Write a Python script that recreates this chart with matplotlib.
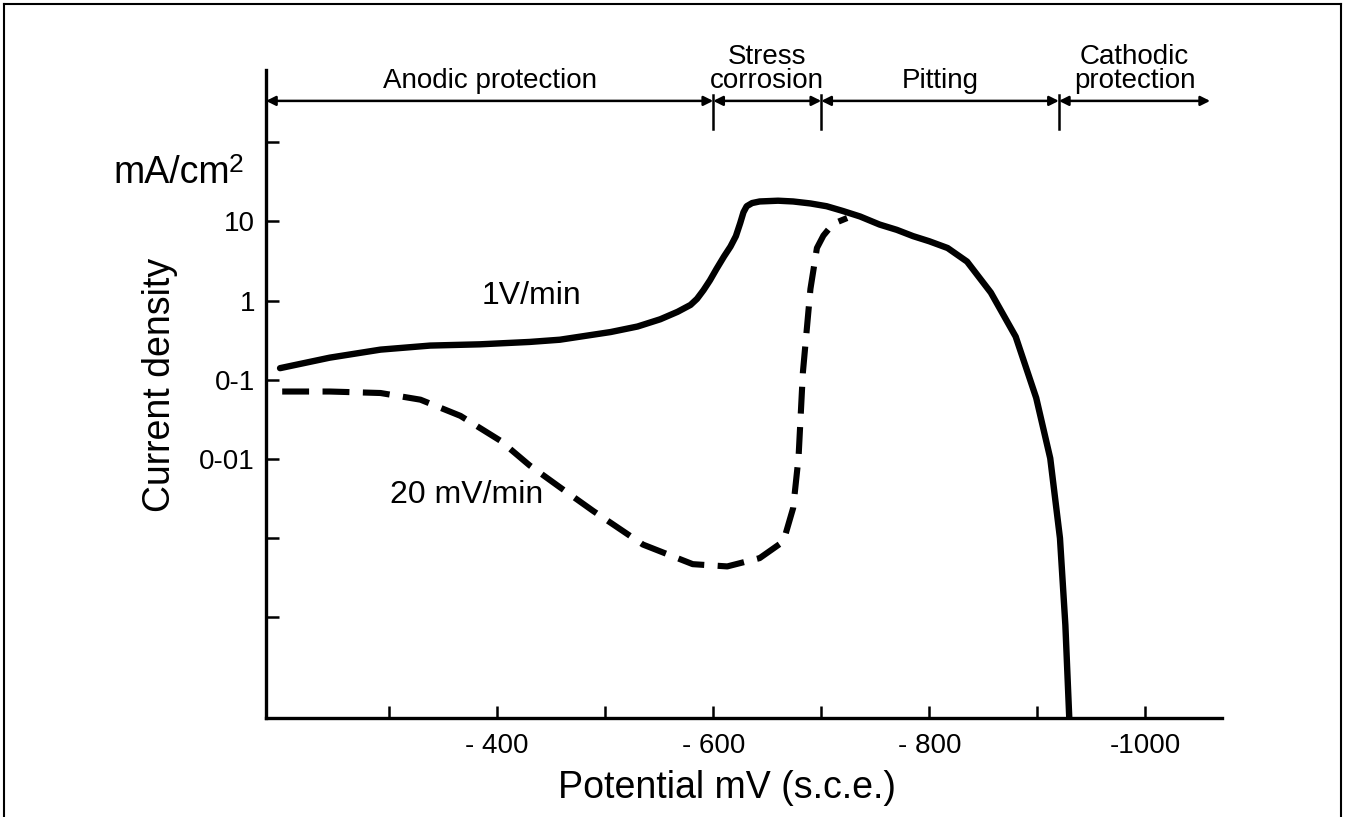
import matplotlib.pyplot as plt
import matplotlib.ticker as mticker

plt.rcParams['font.family'] = ['Liberation Sans', 'DejaVu Sans']

# 1 V/min sweep (solid) - potential mV (s.c.e.), current density mA/cm2
fast_mv = [-199, -245, -292, -338, -384, -430, -458, -505, -530, -551, -567, -579,
           -585, -591, -597, -603, -610, -616, -621, -625, -628, -631, -636, -643,
           -660, -674, -690, -705, -720, -736, -754, -770, -785, -800, -817, -835,
           -857, -880, -899, -912, -921, -926, -930]
fast_i = [0.14, 0.19, 0.24, 0.27, 0.28, 0.30, 0.32, 0.40, 0.47, 0.58, 0.72, 0.88,
          1.05, 1.35, 1.8, 2.5, 3.6, 4.8, 6.5, 9.5, 13, 15.5, 17, 17.8,
          18.2, 17.8, 16.8, 15.5, 13.5, 11.5, 9.1, 7.8, 6.5, 5.6, 4.6, 3.1,
          1.26, 0.35, 0.059, 0.0102, 0.001, 8e-5, 4e-6]

# 20 mV/min sweep (dashed)
slow_mv = [-201, -245, -292, -329, -366, -403, -430, -458, -489, -535, -581, -613,
           -643, -665, -674, -679, -683, -690, -696, -702, -711, -724]
slow_i = [0.071, 0.071, 0.068, 0.056, 0.035, 0.017, 0.0083, 0.0044, 0.0022, 0.00083,
          0.00047, 0.00044, 0.00056, 0.00091, 0.0024, 0.0105, 0.123, 1.4, 4.6, 6.6,
          9.3, 11]

# regions along the top
region_edges = [-186, -600, -700, -920, -1060]
region_names = ["Anodic protection", "Stress\ncorrosion", "Pitting", "Cathodic\nprotection"]

y_ticks = [1e2, 10, 1, 0.1, 0.01, 1e-3, 1e-4]
y_labels = ["", "10", "1", "0-1", "0-01", "", ""]
x_ticks = [-300, -400, -500, -600, -700, -800, -900, -1000]
x_labels = ["", "- 400", "", "- 600", "", "- 800", "", "-1000"]

fig = plt.figure(figsize=(13.48, 8.17), dpi=100)
ax = fig.add_axes([266 / 1348, 99 / 817, (1222 - 266) / 1348, (718 - 70) / 817])

ax.plot(fast_mv, fast_i, color="black", lw=4.6, solid_capstyle="round",
        solid_joinstyle="round")
ax.plot(slow_mv, slow_i, color="black", lw=4.4, linestyle=(0, (4.4, 2.2)))

ax.set_yscale("log")
ax.set_xlim(-186, -1071)
ax.set_ylim(10 ** -5.27, 10 ** 2.91)

ax.yaxis.set_major_locator(mticker.FixedLocator(y_ticks))
ax.yaxis.set_major_formatter(mticker.FixedFormatter(y_labels))
ax.yaxis.set_minor_locator(mticker.NullLocator())
ax.set_xticks(x_ticks)
ax.set_xticklabels(x_labels)

for s in ["top", "right"]:
    ax.spines[s].set_visible(False)
for s in ["left", "bottom"]:
    ax.spines[s].set_linewidth(2.4)
ax.tick_params(axis="both", direction="in", length=9, width=1.8, labelsize=20, pad=8)
ax.tick_params(axis="x", pad=11, labelsize=20)

# region arrows and dividers
arrow_y = 10 ** 2.52
for a, b in zip(region_edges[:-1], region_edges[1:]):
    ax.annotate("", xy=(b, arrow_y), xytext=(a, arrow_y),
                arrowprops=dict(arrowstyle="<|-|>", color="black", lw=1.8,
                                mutation_scale=14, shrinkA=0, shrinkB=0),
                annotation_clip=False)
for e in region_edges[1:-1]:
    ax.plot([e, e], [10 ** 2.59, 10 ** 2.17], color="black", lw=1.8, clip_on=False)
for a, b, name in zip(region_edges[:-1], region_edges[1:], region_names):
    ax.text((a + b) / 2, 10 ** 2.61, name, ha="center", va="bottom", fontsize=20,
            linespacing=0.9, clip_on=False)

ax.text(-432, 1.15, "1V/min", ha="center", va="center", fontsize=23)
ax.text(-372, 10 ** -2.45, "20 mV/min", ha="center", va="center", fontsize=23)

fig.text(113 / 1348, 1 - 173 / 817, "mA/cm", ha="left", va="center", fontsize=27)
fig.text(229 / 1348, 1 - 165 / 817, "2", ha="left", va="center", fontsize=19)
fig.text(160 / 1348, 1 - 385 / 817, "Current density", rotation=90, ha="center",
         va="center", fontsize=27)
fig.text(727 / 1348, 1 - 788 / 817, "Potential mV (s.c.e.)", ha="center",
         va="center", fontsize=27)

# scanned page frame
fig.add_artist(plt.Line2D([4 / 1348, 4 / 1348], [0, 1 - 4 / 817], color="black", lw=1.5))
fig.add_artist(plt.Line2D([4 / 1348, 1341 / 1348], [1 - 4 / 817, 1 - 4 / 817], color="black", lw=1.5))
fig.add_artist(plt.Line2D([1341 / 1348, 1341 / 1348], [0, 1 - 4 / 817], color="black", lw=1.5))

fig.savefig("out.png", dpi=100)
